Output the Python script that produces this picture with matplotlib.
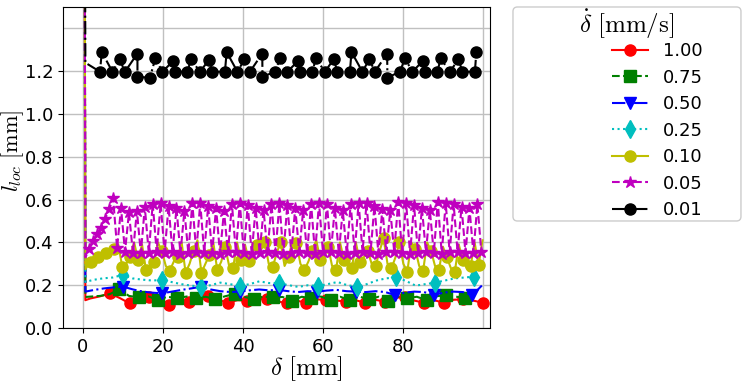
import numpy as np
import matplotlib
matplotlib.use("Agg")
import matplotlib.pyplot as plt
from matplotlib.patches import FancyBboxPatch

plt.rcParams['mathtext.fontset'] = 'cm'

rates = ["1.00", "0.75", "0.50", "0.25", "0.10", "0.05", "0.01"]

# every curve starts with a spike off the top at delta ~ 0, then drops here
spike_top = 3.0
start_level = [0.13, 0.145, 0.17, 0.215, 0.275, 0.33, 1.24]

# 1.00 mm/s
red_x0, red_dx = 1.84, 2.455
red_y = [0.138, 0.148, 0.162, 0.140, 0.115, 0.132, 0.146, 0.128, 0.107, 0.130,
         0.123, 0.140, 0.150, 0.132, 0.118, 0.130, 0.128, 0.138, 0.134, 0.126,
         0.115, 0.128, 0.118, 0.134, 0.131, 0.129, 0.123, 0.130, 0.118, 0.132,
         0.123, 0.140, 0.146, 0.128, 0.118, 0.130, 0.118, 0.132, 0.134, 0.128,
         0.118]

# 0.75 mm/s
green_x0, green_dx = 4.3, 2.4
green_y = [0.150, 0.158, 0.181, 0.150, 0.143, 0.148, 0.131, 0.146, 0.139, 0.147,
           0.139, 0.146, 0.134, 0.148, 0.159, 0.146, 0.134, 0.147, 0.143, 0.145,
           0.128, 0.146, 0.139, 0.147, 0.130, 0.146, 0.131, 0.147, 0.134, 0.146,
           0.128, 0.147, 0.139, 0.146, 0.130, 0.148, 0.154, 0.147, 0.140, 0.148]

# 0.50 mm/s
blue_x0, blue_dx = 2.825, 2.425
blue_y = [0.178, 0.185, 0.190, 0.193, 0.180, 0.170, 0.165, 0.162, 0.170, 0.178,
          0.185, 0.193, 0.180, 0.172, 0.168, 0.170, 0.176, 0.180, 0.176, 0.178,
          0.172, 0.168, 0.172, 0.170, 0.175, 0.178, 0.172, 0.170, 0.168, 0.172,
          0.168, 0.154, 0.165, 0.170, 0.168, 0.154, 0.165, 0.170, 0.168, 0.154,
          0.200]

# 0.25 mm/s
cyan_x0, cyan_dx = 2.57, 2.443
cyan_y = [0.225, 0.232, 0.236, 0.248, 0.232, 0.226, 0.222, 0.224, 0.215, 0.205,
          0.198, 0.193, 0.200, 0.212, 0.205, 0.196, 0.205, 0.218, 0.210, 0.209,
          0.200, 0.192, 0.200, 0.196, 0.205, 0.215, 0.200, 0.193, 0.205, 0.222,
          0.232, 0.237, 0.220, 0.198, 0.205, 0.212, 0.222, 0.232, 0.236, 0.240]

# 0.10 mm/s
yellow_x0, yellow_dx = 1.9, 0.99
yellow_y = [0.310, 0.320, 0.330, 0.340, 0.350, 0.360, 0.370, 0.390, 0.287, 0.300,
            0.330, 0.400, 0.318, 0.390, 0.270, 0.290, 0.310, 0.400, 0.360, 0.290,
            0.268, 0.310, 0.330, 0.400, 0.258, 0.300, 0.360, 0.410, 0.258, 0.300,
            0.340, 0.400, 0.270, 0.310, 0.380, 0.290, 0.279, 0.400, 0.318, 0.390,
            0.315, 0.360, 0.390, 0.420, 0.400, 0.300, 0.284, 0.350, 0.400, 0.290,
            0.330, 0.410, 0.396, 0.300, 0.271, 0.310, 0.360, 0.410, 0.320, 0.350,
            0.380, 0.290, 0.271, 0.400, 0.318, 0.290, 0.279, 0.400, 0.310, 0.330,
            0.360, 0.300, 0.290, 0.360, 0.419, 0.300, 0.279, 0.330, 0.400, 0.300,
            0.263, 0.400, 0.370, 0.290, 0.268, 0.400, 0.360, 0.290, 0.271, 0.380,
            0.330, 0.280, 0.263, 0.390, 0.320, 0.280, 0.290, 0.400, 0.294, 0.410]

# 0.05 mm/s: climbs first, then jumps between a low and a high row
mag_x0, mag_dx = 1.6, 0.99
mag_rise = [0.370, 0.406, 0.440, 0.469, 0.510, 0.555, 0.606]
mag_low = [0.374, 0.357, 0.350, 0.350, 0.352, 0.355, 0.350, 0.353, 0.348, 0.350,
           0.356, 0.352, 0.350, 0.347, 0.353, 0.356, 0.350, 0.348, 0.352, 0.355,
           0.350, 0.347, 0.352, 0.356, 0.350, 0.348, 0.353, 0.355, 0.350, 0.347,
           0.352, 0.356, 0.350, 0.348, 0.353, 0.356, 0.350, 0.347, 0.352, 0.355,
           0.350, 0.348, 0.353, 0.356, 0.350, 0.350, 0.356]
mag_high = [0.560, 0.540, 0.547, 0.565, 0.580, 0.584, 0.570, 0.560, 0.547, 0.584,
            0.584, 0.570, 0.560, 0.547, 0.580, 0.584, 0.575, 0.560, 0.550, 0.580,
            0.583, 0.575, 0.560, 0.550, 0.580, 0.585, 0.580, 0.560, 0.550, 0.580,
            0.585, 0.583, 0.572, 0.555, 0.550, 0.590, 0.585, 0.575, 0.560, 0.550,
            0.590, 0.585, 0.580, 0.567, 0.560, 0.580]

# 0.01 mm/s: two rows of points
black_low_x0, black_low_dx = 4.25, 3.125
black_low = [1.198, 1.198, 1.198, 1.174, 1.170, 1.198, 1.198, 1.198, 1.198, 1.198,
             1.198, 1.198, 1.198, 1.174, 1.198, 1.198, 1.198, 1.198, 1.198, 1.198,
             1.198, 1.198, 1.198, 1.170, 1.198, 1.198, 1.198, 1.198, 1.198, 1.198,
             1.198]
black_high_x0, black_high_dx = 4.7, 4.46
black_high = [1.290, 1.256, 1.283, 1.260, 1.248, 1.256, 1.252, 1.290, 1.256, 1.283,
              1.260, 1.248, 1.260, 1.256, 1.290, 1.256, 1.283, 1.260, 1.248, 1.260,
              1.256, 1.290]


def grid(x0, dx, n):
    return x0 + dx * np.arange(n)


mag_y = list(mag_rise)
for i in range(len(mag_high)):
    mag_y += [mag_low[i], mag_high[i]]
mag_y.append(mag_low[-1])

bx = np.concatenate([grid(black_low_x0, black_low_dx, len(black_low)),
                     grid(black_high_x0, black_high_dx, len(black_high))])
by = np.array(black_low + black_high)
order = np.argsort(bx)
bx, by = bx[order], by[order]

curves = [
    (grid(red_x0, red_dx, len(red_y)), red_y),
    (grid(green_x0, green_dx, len(green_y)), green_y),
    (grid(blue_x0, blue_dx, len(blue_y)), blue_y),
    (grid(cyan_x0, cyan_dx, len(cyan_y)), cyan_y),
    (grid(yellow_x0, yellow_dx, len(yellow_y)), yellow_y),
    (grid(mag_x0, mag_dx, len(mag_y)), mag_y),
    (bx, by),
]
colors = ['r', 'g', 'b', 'c', 'y', 'm', 'k']
markers = ['o', 's', 'v', 'd', 'o', '*', 'o']
styles = ['-', '--', '-.', ':', '-', '--', '-.']
marks = [(4, 2), (4, 2), (5, 4), (5, 4), (2, 2), (2, 1), (2, 1)]
sizes = [8, 8, 9, 9, 8, 9, 8]

fig = plt.figure(figsize=(7.48, 3.82), dpi=100)
ax = fig.add_axes([0.0842, 0.1414, 0.571, 0.840])

lines = []
for i in range(len(rates)):
    x, y = curves[i]
    x = np.concatenate([[0.3, 0.6], x])
    y = np.concatenate([[spike_top, start_level[i]], y])
    ln, = ax.plot(x, y, color=colors[i], marker=markers[i], ls=styles[i], lw=1.5,
                  ms=sizes[i], markevery=marks[i])
    lines.append(ln)

ax.set_xlim(-5, 101.8)
ax.set_ylim(0, 1.5)
ax.set_xticks([0, 20, 40, 60, 80])
ax.set_yticks([0.0, 0.2, 0.4, 0.6, 0.8, 1.0, 1.2])
ax.grid(True, color='#c0c0c0', lw=1)
ax.axhline(1.4, color='#c0c0c0', lw=1, zorder=0)
ax.axvline(100, color='#c0c0c0', lw=1, zorder=0)
ax.set_axisbelow(True)
ax.tick_params(labelsize=13)
ax.set_xlabel(r'$\delta\ [\mathrm{mm}]$', fontsize=18)
ax.set_ylabel(r'$l_{loc}\ [\mathrm{mm}]$', fontsize=16)
ax.xaxis.set_label_coords(0.57, -0.082)
ax.yaxis.set_label_coords(-0.086, 0.551)

# legend box: wider than its content, content centred in it
frame = FancyBboxPatch((0.6858, 0.4215), 0.3048, 0.5602,
                       boxstyle='round,pad=0,rounding_size=0.006',
                       mutation_aspect=748 / 382, transform=fig.transFigure,
                       facecolor='white', edgecolor='0.8', lw=1, zorder=-1)
fig.patches.append(frame)
fig.text(0.838, 1 - 24 / 382, r'$\dot{\delta}\ [\mathrm{mm/s}]$', fontsize=18,
         ha='center', va='center')
leg = ax.legend(lines, rates, loc='upper left', bbox_to_anchor=(605 / 748, 1 - 35 / 382),
                bbox_transform=fig.transFigure, frameon=False, fontsize=13,
                labelspacing=0.47, borderaxespad=0)
leg.set_zorder(10)

fig.savefig('out.png', dpi=100)
